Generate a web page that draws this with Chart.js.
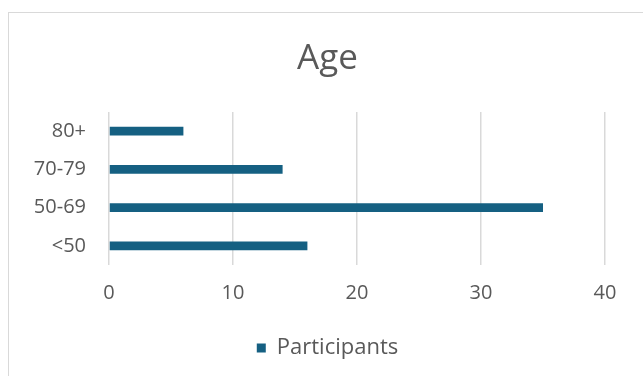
<!DOCTYPE html>
<html>
<head>
<meta charset="utf-8">
<script src="https://cdn.jsdelivr.net/npm/chart.js@4/dist/chart.umd.min.js"></script>
<style>
  body { margin: 0; background: #fff; overflow: hidden; }
  .chart-box {
    position: absolute;
    left: 8px;
    top: 12px;
    width: 637px;
    height: 380px;
    border: 1px solid #d9d9d9;
    background: #fff;
  }
</style>
</head>
<body>
<div class="chart-box">
  <canvas id="chart" width="637" height="380"></canvas>
</div>
<script>
// data
var ageGroups = ["80+", "70-79", "50-69", "<50"];
var participants = [6, 14, 35, 16];
var xTicks = [0, 10, 20, 30, 40];

var textColor = "#595959";
var fontFamily = "'Open Sans', sans-serif";

var ctx = document.getElementById("chart").getContext("2d");
var chart = new Chart(ctx, {
  type: "bar",
  data: {
    labels: ageGroups,
    datasets: [{
      label: "Participants",
      data: participants,
      backgroundColor: "#156082",
      borderWidth: 0,
      barPercentage: 0.225,
      categoryPercentage: 1
    }]
  },
  options: {
    indexAxis: "y",
    responsive: false,
    animation: false,
    layout: { padding: { left: 0, right: 0, top: 0, bottom: 24 } },
    plugins: {
      title: {
        display: true,
        text: "Age",
        color: textColor,
        font: { family: fontFamily, size: 35, weight: "normal" },
        padding: { top: 25, bottom: 32 }
      },
      legend: {
        position: "bottom",
        labels: {
          color: textColor,
          font: { family: fontFamily, size: 22 },
          boxWidth: 9,
          boxHeight: 9,
          padding: 10
        }
      },
      tooltip: { enabled: false }
    },
    scales: {
      x: {
        min: xTicks[0],
        max: xTicks[xTicks.length - 1],
        afterBuildTicks: function (axis) {
          axis.ticks = xTicks.map(function (v) { return { value: v }; });
        },
        afterFit: function (axis) { axis.height = 62; },
        grid: { color: "#d9d9d9", lineWidth: 1.5, drawTicks: false },
        border: { display: false },
        ticks: {
          color: textColor,
          font: { family: fontFamily, size: 20 },
          padding: 16
        }
      },
      y: {
        afterFit: function (axis) { axis.width = 100; },
        grid: { display: false, drawTicks: false },
        border: { display: false },
        ticks: {
          color: textColor,
          font: { family: fontFamily, size: 20 },
          padding: 23
        }
      },
      // empty axis on the right, only to leave the blank margin there
      yRight: {
        type: "category",
        position: "right",
        afterFit: function (axis) { axis.width = 41; },
        grid: { display: false, drawTicks: false },
        border: { display: false },
        ticks: { display: false }
      }
    }
  }
});
</script>
</body>
</html>
